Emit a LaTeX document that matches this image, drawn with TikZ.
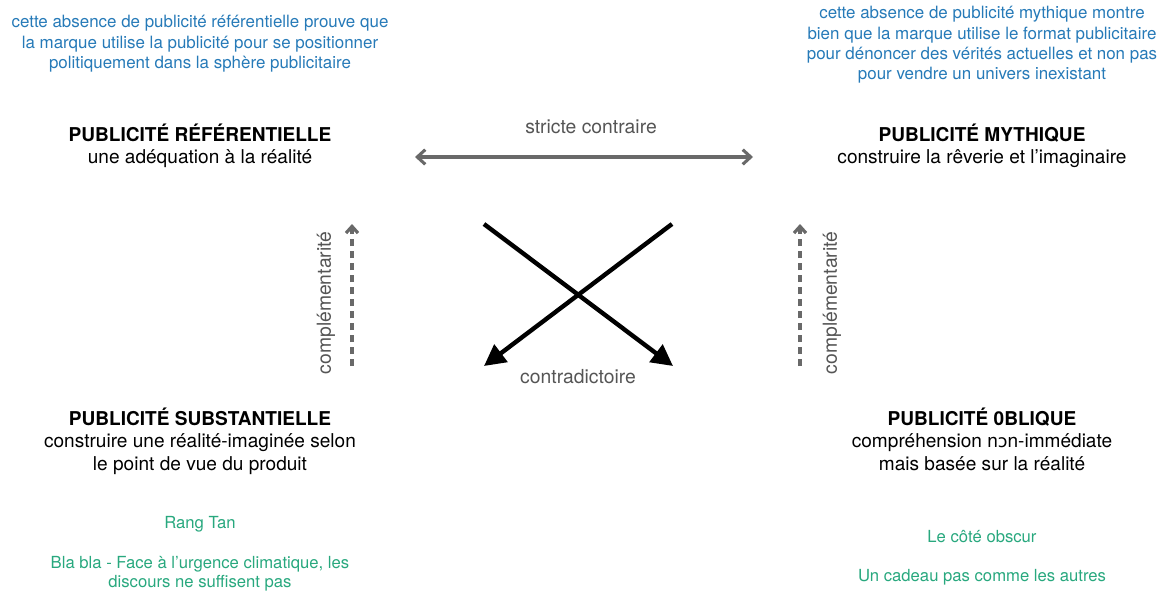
\documentclass[tikz,border=0pt]{standalone}
\usepackage{fontspec}
\setmainfont{TeX Gyre Heros}
\newfontfamily\dejavu{DejaVu Sans}
\usetikzlibrary{arrows.meta}
\definecolor{noteblue}{RGB}{38,122,184}
\definecolor{notegreen}{RGB}{40,168,126}
\definecolor{labgray}{RGB}{85,85,85}
\definecolor{arrgray}{RGB}{105,105,105}
\begin{document}
\begin{tikzpicture}[x=0.75pt,y=-0.75pt,
  title/.style={align=center,inner sep=0pt,font=\fontsize{14.3}{16.8}\selectfont,text=black},
  bluenote/.style={align=center,inner sep=0pt,font=\fontsize{12.7}{15.3}\selectfont,text=noteblue},
  greennote/.style={align=center,inner sep=0pt,font=\fontsize{12.5}{14.4}\selectfont,text=notegreen},
  rel/.style={inner sep=0pt,font=\fontsize{14.5}{16}\selectfont,text=labgray},
  grayarrow/.style={draw=arrgray,line width=2.3pt,-{Straight Barb[length=6pt,width=11pt]}},
  dasharrow/.style={draw=arrgray,line width=2.4pt,dash pattern=on 5pt off 4pt,-{Straight Barb[length=5pt,width=9pt]}},
  crossarrow/.style={draw=black,line width=3.3pt,-{Triangle[length=16pt,width=16pt]}}]
\useasboundingbox (0,0) rectangle (1164,590);
% notes
\node[bluenote] (n1) at (200,44) {cette absence de publicité référentielle prouve que\\la marque utilise la publicité pour se positionner\\politiquement dans la sphère publicitaire};
\node[bluenote] (n2) at (982,45) {cette absence de publicité mythique montre\\bien que la marque utilise le format publicitaire\\pour dénoncer des vérités actuelles et non pas\\pour vendre un univers inexistant};
% titles
\node[title] (ref) at (200,146) {\textbf{PUBLICITÉ RÉFÉRENTIELLE}\\une adéquation à la réalité};
\node[title] (myt) at (982,146) {\textbf{PUBLICITÉ MYTHIQUE}\\construire la rêverie et l’imaginaire};
\node[title] (sub) at (200,441) {\textbf{PUBLICITÉ SUBSTANTIELLE}\\construire une réalité-imaginée selon\\le point de vue du produit};
\node[title] (obl) at (982,439) {\textbf{PUBLICITÉ 0BLIQUE}\\compréhension n{\dejavu\fontsize{13.2}{16.8}\selectfont ɔ}n-immédiate\\mais basée sur la réalité};
% examples
\node[greennote] (g1) at (200,524) {Rang Tan};
\node[greennote] (g2) at (200,574) {Bla bla - Face à l’urgence climatique, les\\discours ne suffisent pas};
\node[greennote] (g3) at (982,537) {Le côté obscur};
\node[greennote] (g4) at (982,577) {Un cadeau pas comme les autres};
% relation labels
\node[rel] (sc) at (591,127) {stricte contraire};
\node[rel] (cd) at (578,377) {contradictoire};
\node[rel,rotate=90] (c1) at (326,303) {complémentarité};
\node[rel,rotate=90] (c2) at (832,303) {complémentarité};
% arrow end points
\coordinate (hl) at (415,157);
\coordinate (hr) at (753,157);
\coordinate (dl0) at (352,366);
\coordinate (dl1) at (352,224);
\coordinate (dr0) at (800,366);
\coordinate (dr1) at (800,224);
\coordinate (xa0) at (484,224);
\coordinate (xa1) at (673,366);
\coordinate (xb0) at (672,224);
\coordinate (xb1) at (484,366);
% arrows
\draw[grayarrow,{Straight Barb[length=6pt,width=11pt]}-{Straight Barb[length=6pt,width=11pt]}] (hl) -- (hr);
\draw[dasharrow] (dl0) -- (dl1);
\draw[dasharrow] (dr0) -- (dr1);
\draw[crossarrow] (xa0) -- (xa1);
\draw[crossarrow] (xb0) -- (xb1);
\end{tikzpicture}
\end{document}
